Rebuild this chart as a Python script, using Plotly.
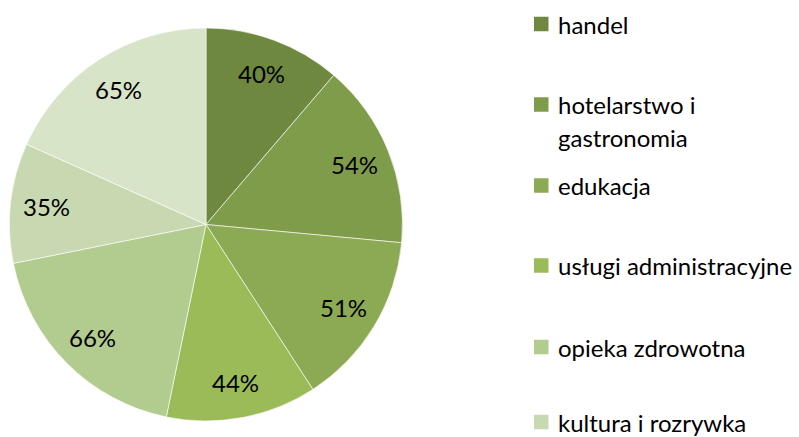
import math
import plotly.graph_objects as go

categories = ["handel", "hotelarstwo i gastronomia", "edukacja", "usługi administracyjne",
              "opieka zdrowotna", "kultura i rozrywka", "inne"]
values = [40, 54, 51, 44, 66, 35, 65]
text_labels = ["40%", "54%", "51%", "44%", "66%", "35%", "65%"]
colors = ["#6F883F", "#7F9C4B", "#8CAA53", "#9BBB59", "#B2CB8E", "#C8D9B1", "#D8E4C7"]
legend_labels = ["handel", "hotelarstwo i<br>gastronomia", "edukacja", "usługi administracyjne",
                 "opieka zdrowotna", "kultura i rozrywka"]

W, H = 799, 437
FONT = "Lato"
FS = 24

# pie geometry (pixels)
cx, cy = 206, 224.5
x0p, x1p, y0p, y1p = 9, 403, 28, 421
R = min(x1p - x0p, y1p - y0p) / 2
label_r = 0.817 * R

fig = go.Figure()
fig.add_trace(go.Pie(
    labels=categories,
    values=values,
    text=text_labels,
    textinfo="none",
    marker=dict(colors=colors, line=dict(color="#FFFFFF", width=0.6)),
    sort=False,
    direction="clockwise",
    rotation=0,
    showlegend=False,
    domain=dict(x=[x0p / W, x1p / W], y=[1 - y1p / H, 1 - y0p / H]),
    hoverinfo="label+text",
))

annotations = []
# data labels placed at the slice mid-angles (derived from values)
total = sum(values)
cum = 0
for v, t in zip(values, text_labels):
    mid = (cum + v / 2) / total * 2 * math.pi
    cum += v
    px = cx + label_r * math.sin(mid)
    py = cy - label_r * math.cos(mid)
    annotations.append(dict(xref="paper", yref="paper", x=px / W, y=1 - py / H,
                            xanchor="center", yanchor="middle", showarrow=False,
                            text=t, font=dict(family=FONT, size=FS, color="#000000")))

# manual legend (only six entries visible, as in the original)
legend_y = [24, 104.5, 185.5, 265.5, 347, 422]
sq = 14.5
x_sq0 = 534
x_txt = 556
line_gap = 33
shapes = []
for lbl, yc, col in zip(legend_labels, legend_y, colors):
    shapes.append(dict(type="rect", xref="paper", yref="paper",
                       x0=x_sq0 / W, x1=(x_sq0 + sq) / W,
                       y0=1 - (yc + sq / 2) / H, y1=1 - (yc - sq / 2) / H,
                       fillcolor=col, line=dict(width=0)))
    for i, part in enumerate(lbl.split("<br>")):
        annotations.append(dict(xref="paper", yref="paper", x=x_txt / W,
                                y=1 - (yc + i * line_gap) / H,
                                xanchor="left", yanchor="middle", showarrow=False,
                                text=part, font=dict(family=FONT, size=FS, color="#000000")))

fig.update_layout(
    width=W, height=H,
    margin=dict(l=0, r=0, t=0, b=0),
    paper_bgcolor="#FFFFFF",
    plot_bgcolor="#FFFFFF",
    shapes=shapes,
    annotations=annotations,
)

fig.write_html("out.html")
